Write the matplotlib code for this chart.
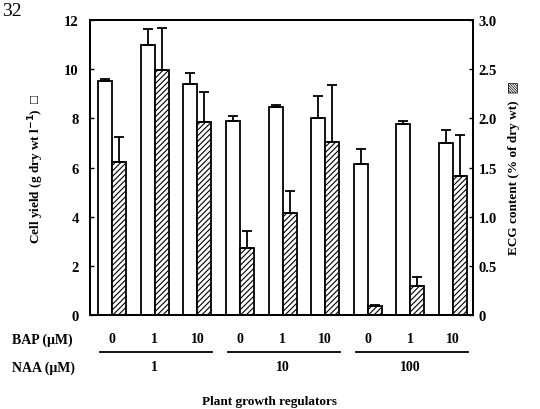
import matplotlib
matplotlib.use("Agg")
import matplotlib.pyplot as plt
import numpy as np

plt.rcParams["font.family"] = ["Liberation Serif", "DejaVu Sans"]
plt.rcParams["font.weight"] = "bold"
plt.rcParams["hatch.linewidth"] = 0.8

# ---------------------------------------------------------------------------
# Data
# ---------------------------------------------------------------------------
bap_labels = ["0", "1", "10", "0", "1", "10", "0", "1", "10"]
naa_labels = ["1", "10", "100"]

cell_yield = [9.5, 11.0, 9.4, 7.9, 8.46, 8.0, 6.15, 7.78, 7.0]
cell_err = [0.1, 0.62, 0.45, 0.2, 0.08, 0.92, 0.6, 0.1, 0.52]

ecg = [1.56, 2.49, 1.96, 0.68, 1.04, 1.76, 0.09, 0.29, 1.41]
ecg_err = [0.25, 0.43, 0.31, 0.17, 0.22, 0.58, 0.01, 0.10, 0.42]

# ---------------------------------------------------------------------------
# Figure
# ---------------------------------------------------------------------------
fig = plt.figure(figsize=(5.4, 4.1), dpi=100)
ax = fig.add_axes([90 / 540, 1 - 316 / 410, (473 - 90) / 540, (316 - 21) / 410])
ax2 = ax.twinx()

x = np.arange(len(cell_yield))
w = 0.33

ax.bar(x - w / 2, cell_yield, w, color="white", edgecolor="black", linewidth=1.3, zorder=2)
ax.errorbar(x - w / 2, cell_yield, yerr=[np.zeros(len(cell_err)), cell_err], fmt="none",
            ecolor="black", elinewidth=1.3, capsize=3.5, capthick=1.3, zorder=3)

ax2.bar(x + w / 2, ecg, w, color="white", edgecolor="black", hatch="//////", linewidth=1.3, zorder=2)
ax2.errorbar(x + w / 2, ecg, yerr=[np.zeros(len(ecg_err)), ecg_err], fmt="none",
             ecolor="black", elinewidth=1.3, capsize=3.5, capthick=1.3, zorder=3)

ax.set_xlim(-0.52, 8.47)
ax.set_ylim(0, 12)
ax2.set_ylim(0, 3)
ax.set_yticks([0, 2, 4, 6, 8, 10, 12])
ax2.set_yticks([0, 0.5, 1.0, 1.5, 2.0, 2.5, 3.0])
ax2.set_yticklabels(["0", "0.5", "1.0", "1.5", "2.0", "2.5", "3.0"])
ax.set_xticks([])

for a in (ax, ax2):
    for s in a.spines.values():
        s.set_linewidth(1.4)
ax.tick_params(axis="y", direction="in", length=3, width=1, labelsize=10.5, pad=8)
ax2.tick_params(axis="y", direction="in", length=3, width=1, labelsize=10.5, pad=4)
for lab in ax.get_yticklabels() + ax2.get_yticklabels():
    lab.set_fontweight("bold")

ax.set_ylabel("Cell yield (g dry wt l$^{\\mathbf{-1}}$)  \u25a1", fontsize=9.5, fontweight="bold", labelpad=13)
ax2.set_ylabel("ECG content (% of dry wt)  \u25a8", fontsize=9.5, fontweight="bold",
               rotation=90, labelpad=8)

# ---------------------------------------------------------------------------
# Two-row category labels below the axis
# ---------------------------------------------------------------------------
trans = matplotlib.transforms.blended_transform_factory(ax.transData, fig.transFigure)
y_bap = 1 - 340 / 410
y_line = 1 - 353 / 410
y_naa = 1 - 368 / 410

for xi, lab in zip(x, bap_labels):
    fig.text(xi, y_bap, lab, transform=trans, ha="center", va="center", fontsize=10, fontweight="bold")

for g, lab in enumerate(naa_labels):
    x0, x1 = 3 * g - 0.28, 3 * g + 2.35
    fig.add_artist(plt.Line2D([x0, x1], [y_line, y_line], transform=trans, color="black", linewidth=1.3))
    fig.text(3 * g + 1, y_naa, lab, transform=trans, ha="center", va="center", fontsize=10, fontweight="bold")

fig.text(12 / 540, y_bap, "BAP (\u03bcM)", ha="left", va="center", fontsize=10, fontweight="bold")
fig.text(12 / 540, y_naa, "NAA (\u03bcM)", ha="left", va="center", fontsize=10, fontweight="bold")
fig.text(270 / 540, 1 - 402 / 410, "Plant growth regulators", ha="center", va="center",
         fontsize=9.5, fontweight="bold")

# page number from the scanned source
fig.text(2 / 540, 1 - 12 / 410, "32", ha="left", va="center", fontsize=14, fontweight="normal")

fig.savefig("out.png", dpi=100)
